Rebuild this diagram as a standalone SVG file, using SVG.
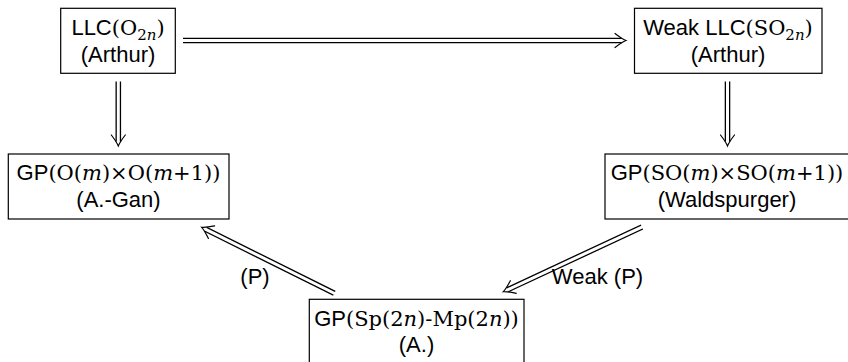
<svg xmlns="http://www.w3.org/2000/svg" width="848" height="362" viewBox="0 0 848 362">
<style>
.box{fill:#fff;stroke:#000;stroke-width:1.2}
text{font-size:22px;fill:#000;text-anchor:middle;font-family:"Liberation Sans",Arial,sans-serif}
.rm{font-family:"DejaVu Serif","Liberation Serif",serif;font-size:21px}
.it{font-family:"DejaVu Serif","Liberation Serif",serif;font-style:italic;font-size:21px}
.sub{font-size:15px}
.dbo{stroke:#000;stroke-width:5.6;fill:none}
.dbi{stroke:#fff;stroke-width:3;fill:none}
.head{stroke:#000;stroke-width:1.2;fill:none;stroke-linecap:round}
</style>
<defs>
<path id="chev" d="M -11,-7 Q -4,-1.6 0,0 Q -4,1.6 -11,7"/>
</defs>
<rect width="848" height="362" fill="#fff"/>
<g id="connectors">
<g id="e-top">
<line class="dbo" x1="183" y1="40.5" x2="621.5" y2="40.5"/>
<line class="dbi" x1="182" y1="40.5" x2="622" y2="40.5"/>
<use href="#chev" class="head" transform="translate(626,40.5)"/>
</g>
<g id="e-left">
<line class="dbo" x1="118.3" y1="81.5" x2="118.3" y2="141.5"/>
<line class="dbi" x1="118.3" y1="80.5" x2="118.3" y2="142"/>
<use href="#chev" class="head" transform="translate(118.3,146) rotate(90)"/>
</g>
<g id="e-right">
<line class="dbo" x1="727.5" y1="81.5" x2="727.5" y2="141.5"/>
<line class="dbi" x1="727.5" y1="80.5" x2="727.5" y2="142"/>
<use href="#chev" class="head" transform="translate(727.5,146) rotate(90)"/>
</g>
<g id="e-p">
<line class="dbo" x1="334.3" y1="293.3" x2="205.7" y2="229.3"/>
<line class="dbi" x1="335.2" y1="293.75" x2="205.3" y2="229.1"/>
<use href="#chev" class="head" transform="translate(201.7,227.3) rotate(206.52)"/>
<text x="255" y="284">(P)</text>
</g>
<g id="e-weakp">
<line class="dbo" x1="642" y1="227" x2="507.4" y2="289.8"/>
<line class="dbi" x1="642.9" y1="226.6" x2="507" y2="290"/>
<use href="#chev" class="head" transform="translate(503.3,291.7) rotate(155)"/>
<text x="597.5" y="284">Weak (P)</text>
</g>
</g>
<g id="n-llc-o">
<rect class="box" x="60.7" y="8.3" width="114.6" height="65"/>
<text x="118" y="34.5">LLC<tspan class="rm">(O</tspan><tspan class="rm sub" dy="5">2</tspan><tspan class="it sub">n</tspan><tspan class="rm" dy="-5">)</tspan></text>
<text x="118" y="62">(Arthur)</text>
</g>
<g id="n-llc-so">
<rect class="box" x="634.5" y="8.3" width="187.5" height="65"/>
<text x="728" y="34.5">Weak LLC<tspan class="rm">(SO</tspan><tspan class="rm sub" dy="5">2</tspan><tspan class="it sub">n</tspan><tspan class="rm" dy="-5">)</tspan></text>
<text x="728" y="62">(Arthur)</text>
</g>
<g id="n-gp-o">
<rect class="box" x="8.3" y="154" width="220.7" height="65"/>
<text x="118.5" y="180">GP<tspan class="rm">(O(</tspan><tspan class="it">m</tspan><tspan class="rm">)×O(</tspan><tspan class="it">m</tspan><tspan class="rm">+1))</tspan></text>
<text x="118.5" y="207">(A.-Gan)</text>
</g>
<g id="n-gp-so">
<rect class="box" x="605" y="154" width="244" height="65"/>
<text x="727" y="180">GP<tspan class="rm">(SO(</tspan><tspan class="it">m</tspan><tspan class="rm">)×SO(</tspan><tspan class="it">m</tspan><tspan class="rm">+1))</tspan></text>
<text x="727" y="207">(Waldspurger)</text>
</g>
<g id="n-gp-sp">
<rect class="box" x="309.3" y="299.3" width="214.7" height="70"/>
<text x="416.5" y="325.5">GP<tspan class="rm">(Sp(2</tspan><tspan class="it">n</tspan><tspan class="rm">)-Mp(2</tspan><tspan class="it">n</tspan><tspan class="rm">))</tspan></text>
<text x="416.5" y="352">(A.)</text>
</g>
</svg>
